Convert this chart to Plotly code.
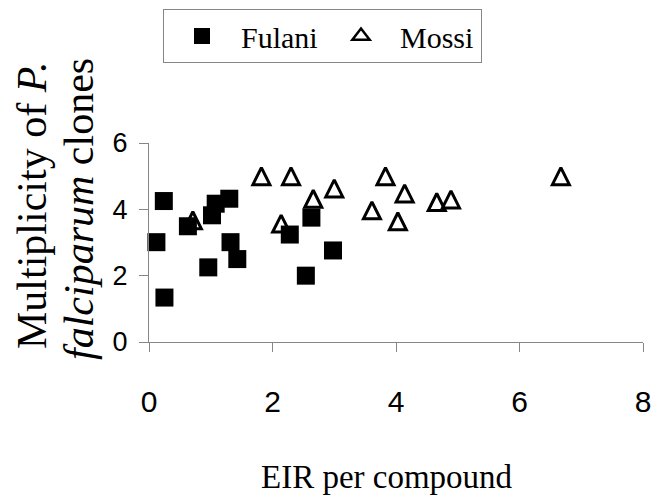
import plotly.graph_objects as go

# Data
fulani_x = [0.12, 0.24, 0.25, 0.63, 0.96, 1.02, 1.08, 1.30, 1.32, 1.43, 2.28, 2.54, 2.63, 2.98]
fulani_y = [3.01, 4.25, 1.34, 3.49, 2.25, 3.82, 4.17, 4.32, 3.01, 2.50, 3.24, 2.00, 3.75, 2.76]

mossi_x = [0.71, 1.82, 2.14, 2.30, 2.66, 3.00, 3.61, 3.83, 4.03, 4.14, 4.66, 4.89, 6.67]
mossi_y = [3.67, 5.00, 3.57, 5.00, 4.32, 4.63, 3.97, 5.00, 3.64, 4.48, 4.22, 4.30, 5.00]

x_ticks = [0, 2, 4, 6, 8]
y_ticks = [0, 2, 4, 6]

series_names = ["Fulani", "Mossi"]
x_title = "EIR per compound"
y_title_1 = "Multiplicity of <i>P.</i>"
y_title_2 = "<i>falciparum</i> clones"

SERIF = "Liberation Serif, Times New Roman, serif"
SANS = "Liberation Sans, Arial, sans-serif"
AXIS_GRAY = "#868686"

fig = go.Figure()
fig.add_trace(go.Scatter(
    x=fulani_x, y=fulani_y, mode="markers", name=series_names[0],
    marker=dict(symbol="square", size=18, color="black", line=dict(width=0)),
    cliponaxis=False,
))
# Mossi data: centred upward triangle (arrow rotated, pushed back by half its height)
fig.add_trace(go.Scatter(
    x=mossi_x, y=mossi_y, mode="markers", name=series_names[1],
    legendgroup="mossi", showlegend=False,
    marker=dict(symbol="arrow-down-open", size=17, angle=180, standoff=8.5,
                color="black", line=dict(width=3, color="black")),
    cliponaxis=False,
))
# legend entry for Mossi (no data points)
fig.add_trace(go.Scatter(
    x=[None], y=[None], mode="markers", name=series_names[1],
    legendgroup="mossi", showlegend=True,
    marker=dict(symbol="triangle-up-open", size=15,
                color="black", line=dict(width=2.5, color="black")),
))

# The page body has an 8px margin, so the figure is drawn 8px in from the window edge.
OFF = 8
W, H = 665 - OFF, 495 - OFF
L, R = 149 - OFF, 665 - 643
T = 143 - OFF
B = H - (342 - OFF)
pw = W - L - R
ph = H - T - B

def px_x(px):  # window pixel -> paper fraction
    return (px - OFF - L) / pw

def px_y(py):
    return (H - B - (py - OFF)) / ph

annotations = [
    dict(text=x_title, xref="paper", yref="paper", x=px_x(387), y=px_y(477),
         xanchor="center", yanchor="middle", showarrow=False,
         font=dict(family=SERIF, size=33, color="black")),
    dict(text=y_title_1, xref="paper", yref="paper", x=px_x(32), y=px_y(206),
         xanchor="center", yanchor="middle", textangle=-90, showarrow=False,
         font=dict(family=SERIF, size=42, color="black")),
    dict(text=y_title_2, xref="paper", yref="paper", x=px_x(79), y=px_y(209),
         xanchor="center", yanchor="middle", textangle=-90, showarrow=False,
         font=dict(family=SERIF, size=42, color="black")),
]

fig.update_layout(
    width=W, height=H,
    margin=dict(l=L, r=R, t=T, b=B, pad=0, autoexpand=False),
    paper_bgcolor="white", plot_bgcolor="white",
    showlegend=True,
    legend=dict(
        orientation="h", x=px_x(163), y=px_y(9), xanchor="left", yanchor="top",
        xref="paper", yref="paper",
        bordercolor=AXIS_GRAY, borderwidth=1, bgcolor="white",
        font=dict(family=SERIF, size=30, color="black"),
        itemwidth=68, entrywidth=76, entrywidthmode="pixels",
        itemsizing="trace",
    ),
    xaxis=dict(
        range=[0, 8], tickvals=x_ticks, ticktext=[str(v) for v in x_ticks],
        showgrid=False, zeroline=False, showline=True,
        linecolor=AXIS_GRAY, linewidth=1, ticks="outside", ticklen=9,
        tickcolor=AXIS_GRAY, tickwidth=1,
        tickfont=dict(family=SANS, size=30, color="black"),
        ticklabelstandoff=24,
    ),
    yaxis=dict(
        range=[0, 6], tickvals=y_ticks, ticktext=[str(v) for v in y_ticks],
        showgrid=False, zeroline=False, showline=True,
        linecolor=AXIS_GRAY, linewidth=1, ticks="outside", ticklen=9,
        tickcolor=AXIS_GRAY, tickwidth=1,
        tickfont=dict(family=SANS, size=27, color="black"),
        ticklabelstandoff=6,
    ),
    annotations=annotations,
)

fig.write_html("out.html")
